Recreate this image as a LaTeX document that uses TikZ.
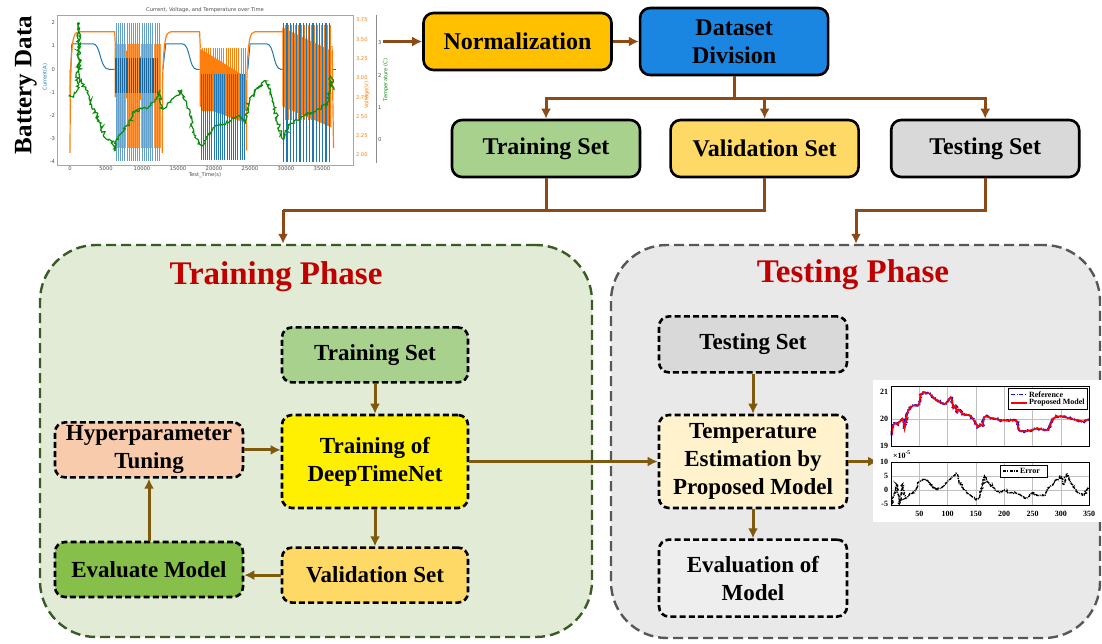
\documentclass[tikz,border=0pt]{standalone}
\usepackage{fontspec}
\setmainfont{Liberation Serif}
\newfontfamily\plotfont{DejaVu Sans}
\usetikzlibrary{arrows.meta,positioning,decorations.pathmorphing}
\definecolor{Rust}{HTML}{8B4A16}
\definecolor{Umber}{HTML}{7F5A0C}
\definecolor{NormOrange}{HTML}{FFC000}
\definecolor{DivBlue}{HTML}{1B86E2}
\definecolor{TrainGreen}{HTML}{A9D18E}
\definecolor{ValGold}{HTML}{FFD966}
\definecolor{TestGrey}{HTML}{D9D9D9}
\definecolor{DeepYellow}{HTML}{FFEF00}
\definecolor{HyperPeach}{HTML}{F8CBAD}
\definecolor{EvalGreen}{HTML}{86BF4A}
\definecolor{TempCream}{HTML}{FFF2CC}
\definecolor{EvalLight}{HTML}{EEEEEE}
\definecolor{TrainBg}{HTML}{E2EBD6}
\definecolor{TrainEdge}{HTML}{3A5A26}
\definecolor{TestBg}{HTML}{E9E9E9}
\definecolor{TestEdge}{HTML}{575757}
\definecolor{TitleRed}{HTML}{C00000}
\definecolor{Blu}{HTML}{1F77B4}
\definecolor{Orng}{HTML}{FF7F0E}
\definecolor{Grn}{HTML}{0C8C0C}
\definecolor{RefBlue}{HTML}{1010E0}
\tikzset{
  box/.style={draw=black, line width=1.3pt, rounded corners=5pt, align=center,
              minimum width=94pt, minimum height=28.5pt, inner sep=1pt,
              font=\bfseries\fontsize{12}{14}\selectfont},
  dbox/.style={box, dash pattern=on 3pt off 1.6pt, minimum width=93pt, minimum height=27.5pt,
               font=\bfseries\fontsize{11.5}{14}\selectfont},
  phase/.style={line width=1.2pt, dash pattern=on 5pt off 2.5pt, rounded corners=28pt},
  phasettl/.style={text=TitleRed, font=\bfseries\fontsize{16.5}{18}\selectfont},
  arrowtop/.style={-{Latex[length=5pt,width=5pt]}, line width=1.5pt, draw=Rust},
  arrowin/.style={arrowtop, draw=Umber},
  linetop/.style={line width=1.5pt, draw=Rust},
  bdtick/.style={font=\plotfont\fontsize{2.6}{3}\selectfont, inner sep=0.3pt, text=black!70},
  mtick/.style={font=\bfseries\fontsize{4}{5}\selectfont, inner sep=0.3pt},
}

\begin{document}
\begin{tikzpicture}[x=0.5pt, y=-0.5pt]
  \useasboundingbox (0,0) rectangle (1102,643);
  \fill[white] (0,0) rectangle (1102,643);

  % battery data plot
  \node[rotate=90, font=\bfseries\fontsize{12.5}{14}\selectfont] (bdlabel) at (26,85) {Battery Data};
  \draw[black!35, line width=0.3pt] (57,15) rectangle (353,165);
  \draw[black!45, line width=0.3pt] (376,15) -- (376,163);
  \node[bdtick] (bdtitle) at (205,10) {Current, Voltage, and Temperature over Time};
  \node[bdtick] (bdxlab) at (205,175) {Test\_Time(s)};
  \node[bdtick, rotate=90, text=Blu] (bdcur) at (45,77) {Current(A)};
  \node[bdtick, rotate=90, text=Orng] (bdvolt) at (367,95) {Voltage(V)};
  \node[bdtick, rotate=90, text=Grn] (bdtemp) at (386,80) {Temperature (C)};
  \foreach \k/\lab in {0/0,5/5000,10/10000,15/15000,20/20000,25/25000,30/30000,35/35000}
    \node[bdtick] (bx\k) at ({70+7.2*\k},169) {\lab};
  \foreach \k/\lab in {2/2,1/1,0/0,-1/-1,-2/-2,-3/-3,-4/-4}
    \node[bdtick, anchor=east] (by\k) at (56,{69.3-23.2*\k}) {\lab};
  \foreach \k/\lab in {0/3.75,1/3.50,2/3.25,3/3.00,4/2.75,5/2.50,6/2.25,7/2.00}
    \node[bdtick, anchor=west, text=Orng] (bv\k) at (355,{20+19.3*\k}) {\lab};
  \foreach \k/\yy in {3/43,2/76,1/108,0/140}
    \node[bdtick, anchor=west] (bt\k) at (377,\yy) {\k};

  \begin{scope}[shift={(70,69.3)}, x=3.6pt, y=11.6pt]
    % charge segments
    \draw[Blu, line width=0.5pt] (0,0) -- (0,-1) -- (0.25,1.1) -- (3.2,1.1) .. controls (4.3,1.1) and (4.1,0) .. (5.4,0) -- (6.2,0);
    \draw[Blu, line width=0.5pt] (12.9,0) -- (13.3,1.1) -- (15.6,1.1) .. controls (16.7,1.1) and (16.5,0) .. (17.6,0) -- (18,0);
    \draw[Blu, line width=0.5pt] (24.7,0) -- (25,1.1) -- (27.3,1.1) .. controls (28.4,1.1) and (28.2,0) .. (29.3,0) -- (29.6,0);
    \draw[Blu, line width=0.5pt] (36.4,0) -- (37,0);
    \draw[Orng, line width=0.6pt] (0,-3.6) -- (0.05,-0.6) .. controls (0.2,1.3) and (0.5,1.62) .. (1.2,1.62) -- (6.2,1.62) -- (6.3,1.0);
    \draw[Orng, line width=0.6pt] (12.8,-3.6) -- (12.85,-0.6) .. controls (13,1.3) and (13.3,1.62) .. (14,1.62) -- (18,1.62) -- (18.1,0.9);
    \draw[Orng, line width=0.6pt] (24.5,-3.5) -- (24.55,-0.6) .. controls (24.7,1.3) and (25,1.62) .. (25.7,1.62) -- (29.6,1.62) -- (29.7,1.8);
    % discharge bursts
    \fill[Orng] (6.2,1.0) -- (12.6,0.2) -- (12.6,-1.4) -- (6.2,-1.2) -- cycle;
    \foreach \t in {6.4,6.7,...,12.5} \draw[Blu!70, line width=0.35pt] (\t,2) -- (\t,-3.95);
    \fill[Blu!85!black] (6.2,0.5) rectangle (12.4,-1);
    \foreach \t in {6.55,6.85,...,12.6} \draw[Orng!80, line width=0.35pt] (\t,1.1) -- (\t,-3.4);
    \fill[Orng] (18,0.9) -- (24.3,-0.3) -- (24.3,-2.3) -- (18,-1.6) -- cycle;
    \foreach \t in {18.2,18.5,...,24.3} \draw[Blu, line width=0.4pt] (\t,-0.2) -- (\t,-3.9);
    \foreach \t in {18.35,18.65,...,24.4} \draw[Orng, line width=0.35pt] (\t,0.9) -- (\t,-1.8);
    \fill[Orng] (29.5,1.8) -- (36.3,0.8) -- (36.3,-2.5) -- (29.5,-1.6) -- cycle;
    \foreach \t in {29.7,30.15,...,36.4} \draw[Blu, line width=0.6pt] (\t,2) -- (\t,-4);
    \foreach \t in {29.9,30.35,...,36.4} \draw[Orng, line width=0.4pt] (\t,1.9) -- (\t,-2.2);
    \draw[Orng, line width=0.6pt] (36.4,1) -- (36.6,-3.4);
    % temperature trace
    \draw[Grn, line width=0.6pt, decorate, decoration={random steps, segment length=0.8pt, amplitude=0.9pt}]
      plot coordinates {(0,-1.1) (0.5,-1.2) (1,-0.9) (1.2,2.0) (1.35,-0.4) (1.6,-0.6) (2.2,-0.8) (3,-1.5)
        (4,-2.2) (5,-3.0) (5.8,-3.1) (6.2,-3.5) (6.5,-3.0) (7,-2.8) (8,-2.4) (9,-1.8) (10,-1.7) (11,-1.6)
        (12,-1.3) (12.5,-0.9) (12.8,-1.7) (13.5,-1.5) (14.5,-1.2) (15.5,-0.9) (16.2,-1.5) (17,-2.5)
        (17.8,-3.2) (18.5,-3.3) (19,-2.9) (20,-2.5) (21,-2.4) (22,-2.3) (23.5,-2.0) (24.3,-2.3) (25,-1.3)
        (26,-0.8) (27.2,-0.5) (28,-1.2) (29.5,-3.0) (30.5,-2.4) (32,-2.1) (34.5,-1.7) (35.8,-1.5)
        (36.2,-0.3) (36.7,-0.9)};
  \end{scope}

  % top pipeline
  \coordinate (plotout) at (383,41.5);
  \node[box, fill=NormOrange] (norm) at (517.5,41.5) {Normalization};
  \node[box, fill=DivBlue, minimum height=33.5pt, right=13pt of norm] (divide) {Dataset\\Division};
  \node[box, fill=TrainGreen] (trainset) at (546,148.5) {Training Set};
  \node[box, fill=ValGold, right=14pt of trainset] (valset) {Validation Set};
  \node[box, fill=TestGrey, right=15pt of valset] (testset) {Testing Set};
  \draw[arrowtop] (plotout) -- (norm);
  \draw[arrowtop] (norm) -- (divide);
  \draw[linetop] (divide.south) -- ++(0,22) coordinate (split);
  \draw[arrowtop] (split) -| (trainset.north);
  \draw[arrowtop] (split) -| (valset.north);
  \draw[arrowtop] (split) -| (testset.north);

  % phases
  \node[phase, draw=TrainEdge, fill=TrainBg, minimum width=276pt, minimum height=196pt] (trainphase) at (316,441) {};
  \node[phase, draw=TestEdge, fill=TestBg, minimum width=244.5pt, minimum height=196.5pt] (testphase) at (855.5,441.5) {};
  \node[phasettl] (trainttl) at (276,277) {Training Phase};
  \node[phasettl] (testttl) at (853,275) {Testing Phase};
  \coordinate (trjoin) at (283,210);
  \coordinate (tsjoin) at (856,210);
  \draw[linetop] (valset.south) |- (trjoin);
  \draw[linetop] (trainset.south) -- (trainset.south |- trjoin);
  \draw[arrowtop] (trjoin) -- (trjoin |- trainphase.north);
  \draw[arrowtop] (testset.south) |- (tsjoin) -- (tsjoin |- testphase.north);

  % training loop
  \node[dbox, fill=DeepYellow, minimum height=46.5pt] (deep) at (375,461.5) {Training of\\DeepTimeNet};
  \node[dbox, fill=TrainGreen, above=15pt of deep] (tset2) {Training Set};
  \node[dbox, fill=ValGold, below=18.5pt of deep] (vset2) {Validation Set};
  \node[dbox, fill=EvalGreen, minimum width=94pt] (evalm) at (149,569.5) {Evaluate Model};
  \node[dbox, fill=HyperPeach, minimum width=94pt, above=31pt of evalm] (hyper) {Hyperparameter\\Tuning};
  \draw[arrowin] (tset2) -- (deep);
  \draw[arrowin] (deep) -- (vset2);
  \draw[arrowin] (vset2.west) -- (vset2.west -| evalm.east);
  \draw[arrowin] (evalm) -- (hyper);
  \draw[arrowin] (hyper.east) -- (hyper.east -| deep.west);

  % testing chain
  \node[dbox, fill=TempCream, minimum width=94pt, minimum height=46.5pt] (temp) at (753,461.5) {Temperature\\Estimation by\\Proposed Model};
  \node[dbox, fill=TestGrey, minimum width=94pt, minimum height=28pt, above=20pt of temp] (tstset2) {Testing Set};
  \node[dbox, fill=EvalLight, minimum width=94pt, minimum height=38.5pt, below=14.5pt of temp] (evalp) {Evaluation of\\Model};
  \coordinate (plotin) at (878,461.5);
  \draw[arrowin] (deep) -- (temp);
  \draw[arrowin] (tstset2) -- (temp);
  \draw[arrowin] (temp) -- (evalp);
  \draw[arrowin] (temp) -- (plotin);

  % result plot
  \fill[white] (873,380) rectangle (1102,522);
  \foreach \t in {50,100,...,300} {
    \draw[black!25, line width=0.25pt] ({891+0.566*\t},386) -- ({891+0.566*\t},446);
    \draw[black!25, line width=0.25pt] ({891+0.566*\t},462) -- ({891+0.566*\t},505);
  }
  \draw[black!25, line width=0.25pt] (891,419) -- (1089,419) (891,476) -- (1089,476) (891,490) -- (1089,490);
  \foreach \t in {50,100,...,350}
    \node[mtick] (rx\t) at ({891+0.566*\t},514) {\t};
  \foreach \v/\yy in {21/392,20/419,19/446}
    \node[mtick, anchor=east] (ry\v) at (889,\yy) {\v};
  \foreach \v/\yy in {10/462,5/476,0/490,-5/504}
    \node[mtick, anchor=east] (re\v) at (889,\yy) {\v};
  \node[mtick, anchor=west] (rexp) at (892,455) {×10\textsuperscript{-5}};

  \begin{scope}[shift={(891,419)}, x=0.283pt, y=13.5pt]
    \draw[RefBlue, line width=1.1pt, dash pattern=on 2pt off 0.6pt on 0.6pt off 0.6pt, decorate,
          decoration={random steps, segment length=0.7pt, amplitude=0.5pt}]
      plot coordinates {(1,-0.6) (3,-0.3) (5,-0.2) (8,-0.15) (12,-0.2) (15,-0.1) (20,0) (22,-0.1) (24,-0.35)
        (26,-0.1) (30,0.3) (35,0.45) (40,0.5) (47,0.5) (50,0.55) (52,0.9) (58,1.0) (62,0.95) (68,0.95)
        (72,0.85) (80,0.7) (88,0.6) (95,0.55) (100,0.65) (105,0.8) (108,0.7) (110,0.4) (114,0.5)
        (117,0.25) (120,0.35) (124,0.25) (130,0.15) (138,0.15) (143,0.05) (148,-0.1) (153,-0.3)
        (158,-0.2) (162,-0.25) (164,0.05) (168,0.1) (175,0.05) (185,0.0) (195,-0.05) (205,-0.05)
        (215,-0.05) (222,-0.05) (225,-0.35) (228,-0.45) (240,-0.45) (250,-0.4) (258,-0.35) (270,-0.4)
        (278,-0.4) (282,-0.2) (286,0) (292,0.1) (300,0.1) (310,0.05) (320,0.0) (330,-0.05) (340,-0.1)
        (350,0.0)};
    \draw[red, line width=0.8pt]
      plot coordinates {(1,-0.6) (3,-0.3) (5,-0.2) (8,-0.15) (12,-0.2) (15,-0.1) (20,0) (22,-0.1) (24,-0.35)
        (26,-0.1) (30,0.3) (35,0.45) (40,0.5) (47,0.5) (50,0.55) (52,0.9) (58,1.0) (62,0.95) (68,0.95)
        (72,0.85) (80,0.7) (88,0.6) (95,0.55) (100,0.65) (105,0.8) (108,0.7) (110,0.4) (114,0.5)
        (117,0.25) (120,0.35) (124,0.25) (130,0.15) (138,0.15) (143,0.05) (148,-0.1) (153,-0.3)
        (158,-0.2) (162,-0.25) (164,0.05) (168,0.1) (175,0.05) (185,0.0) (195,-0.05) (205,-0.05)
        (215,-0.05) (222,-0.05) (225,-0.35) (228,-0.45) (240,-0.45) (250,-0.4) (258,-0.35) (270,-0.4)
        (278,-0.4) (282,-0.2) (286,0) (292,0.1) (300,0.1) (310,0.05) (320,0.0) (330,-0.05) (340,-0.1)
        (350,0.0)};
  \end{scope}
  \begin{scope}[shift={(891,490)}, x=0.283pt, y=1.4pt]
    \draw[black, line width=0.7pt, dash pattern=on 1.6pt off 0.5pt on 0.5pt off 0.5pt, decorate,
          decoration={random steps, segment length=0.6pt, amplitude=0.5pt}]
      plot coordinates {(1,-5) (5,-2) (10,2) (15,-5) (20,2) (25,-3) (30,-2) (40,-1) (50,3) (60,4) (70,2)
        (80,0) (90,1) (100,3) (110,5) (115,6) (120,3) (130,0) (140,-2) (150,-3.5) (155,-3) (160,0)
        (165,5) (170,3) (180,1) (190,-1) (200,0) (210,-1) (220,-1) (230,-2) (240,-3) (250,-1) (260,-2)
        (270,-2) (280,1) (290,3) (300,5) (305,2) (310,6) (315,3) (320,2) (330,-1) (340,-2) (350,1)};
  \end{scope}
  \draw[line width=0.4pt] (891,386) rectangle (1089,446);
  \draw[line width=0.4pt] (891,462) rectangle (1089,505);
  \draw[fill=white, line width=0.4pt] (1008,388) rectangle (1087,409);
  \draw[RefBlue, line width=0.7pt, dash pattern=on 2pt off 0.8pt on 0.6pt off 0.8pt] (1011,394.5) -- (1027,394.5);
  \node[mtick, anchor=west] (legref) at (1028,394.5) {Reference};
  \draw[red, line width=0.8pt] (1011,403) -- (1027,403);
  \node[mtick, anchor=west] (legprop) at (1028,403) {Proposed Model};
  \draw[fill=white, line width=0.4pt] (1000,465) rectangle (1047,477);
  \draw[black, line width=0.6pt, dash pattern=on 1.6pt off 0.6pt on 0.5pt off 0.6pt] (1003,471) -- (1018,471);
  \node[mtick, anchor=west] (legerr) at (1019,471) {Error};
\end{tikzpicture}
\end{document}
